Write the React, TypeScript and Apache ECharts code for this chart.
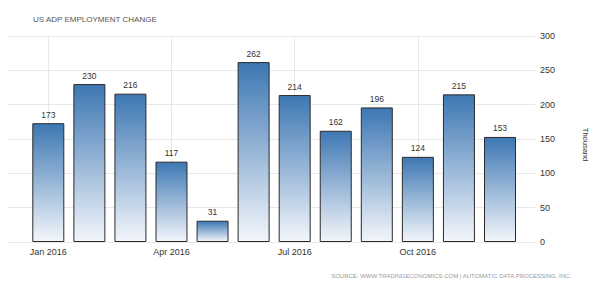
import React, { useEffect, useRef } from "react";
import * as echarts from "echarts";

const categories = [
  "Jan 2016", "Feb 2016", "Mar 2016", "Apr 2016", "May 2016", "Jun 2016",
  "Jul 2016", "Aug 2016", "Sep 2016", "Oct 2016", "Nov 2016", "Dec 2016",
];
const values = [173, 230, 216, 117, 31, 262, 214, 162, 196, 124, 215, 153];
const yTicks = { min: 0, max: 300, interval: 50 };

const FONT = "'Liberation Sans', Arial, sans-serif";

export default function App() {
  const ref = useRef<HTMLDivElement>(null);
  useEffect(() => {
    if (!ref.current) return;
    const chart = echarts.init(ref.current, null, { renderer: "svg" });
    chart.setOption({
      animation: false,
      backgroundColor: "#ffffff",
      title: {
        text: "US ADP EMPLOYMENT CHANGE",
        left: 28,
        top: 10,
        textStyle: { fontFamily: FONT, fontSize: 8, fontWeight: "normal", color: "#555" },
      },
      grid: [
        { left: 8, right: 63, top: 36, bottom: 44 },
        { left: 48.3, right: 98, top: 36, bottom: 44 },
      ],
      xAxis: [
        { type: "value", gridIndex: 0, show: false, min: 0, max: 1 },
        {
          type: "category",
          gridIndex: 1,
          data: categories,
          boundaryGap: false,
          axisLine: { show: false },
          axisTick: { show: false },
          axisLabel: {
            interval: 2,
            margin: 5,
            fontFamily: FONT,
            fontSize: 9,
            color: "#333",
          },
          splitLine: { show: true, interval: 2, lineStyle: { color: "#e8e8e8", width: 1 } },
        },
      ],
      yAxis: [
        {
          type: "value",
          gridIndex: 0,
          position: "right",
          min: yTicks.min,
          max: yTicks.max,
          interval: yTicks.interval,
          axisLine: { show: false },
          axisTick: { show: false },
          axisLabel: { margin: 5, fontFamily: FONT, fontSize: 9, color: "#333" },
          splitLine: { show: true, lineStyle: { color: "#e8e8e8", width: 1 } },
        },
        {
          type: "value",
          gridIndex: 1,
          min: yTicks.min,
          max: yTicks.max,
          interval: yTicks.interval,
          show: false,
          splitLine: { show: false },
        },
      ],
      series: [
        {
          type: "bar",
          xAxisIndex: 1,
          yAxisIndex: 1,
          data: values,
          barWidth: 32,
          clip: false,
          itemStyle: {
            color: new echarts.graphic.LinearGradient(0, 0, 0, 1, [
              { offset: 0, color: "#3d77b3" },
              { offset: 1, color: "#f3f6fb" },
            ]),
            borderColor: "#2b2b2b",
            borderWidth: 1,
          },
          label: {
            show: true,
            position: "top",
            distance: 4,
            fontFamily: FONT,
            fontSize: 8.5,
            color: "#333",
          },
        },
      ],
      graphic: [
        {
          type: "text",
          x: 585,
          y: 144.5,
          rotation: -Math.PI / 2,
          style: {
            text: "Thousand",
            fontFamily: FONT,
            fontSize: 7.5,
            fill: "#333",
            textAlign: "center",
            textVerticalAlign: "middle",
          },
        },
        {
          type: "text",
          x: 571,
          y: 276,
          style: {
            text: "SOURCE: WWW.TRADINGECONOMICS.COM | AUTOMATIC DATA PROCESSING, INC.",
            fontFamily: FONT,
            fontSize: 6,
            fill: "#9a9a9a",
            textAlign: "right",
            textVerticalAlign: "middle",
          },
        },
      ],
    });
    return () => chart.dispose();
  }, []);
  return (
    <div
      ref={ref}
      style={{ position: "fixed", left: 0, top: 0, width: 598, height: 286 }}
    />
  );
}
